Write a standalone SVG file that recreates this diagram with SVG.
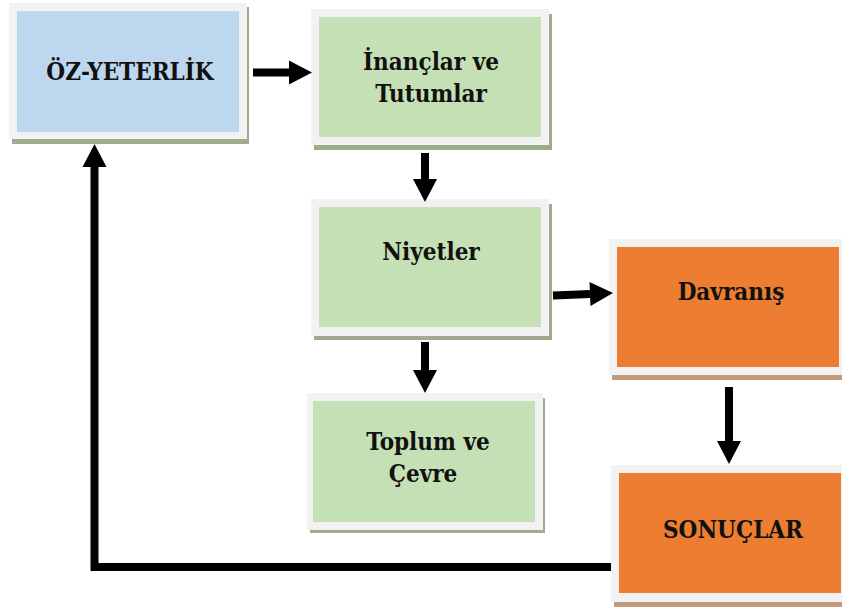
<svg xmlns="http://www.w3.org/2000/svg" width="842" height="607" viewBox="0 0 842 607">
<style>
.frame{fill:#f2f2f2}
.sg{fill:#9eab8e}
.so{fill:#c49a7e}
.blue{fill:#bdd7ee}
.green{fill:#c5e0b4}
.orange{fill:#ed7d31}
.t{font-family:"DejaVu Serif Condensed","DejaVu Serif",serif;font-weight:bold;font-size:24px;fill:#111;text-anchor:middle}
.c{fill:none;stroke:#000;stroke-width:8;marker-end:url(#ah)}
</style>
<defs>
<marker id="ah" markerUnits="userSpaceOnUse" markerWidth="23" markerHeight="24" refX="0" refY="12" orient="auto" overflow="visible">
<path d="M0,0 L23,12 L0,24 z" fill="#000"/>
</marker>
</defs>
<rect width="842" height="607" fill="#fff"/>
<g id="oz">
<rect class="sg" x="12" y="7" width="237" height="137"/>
<rect class="frame" x="9" y="3" width="238" height="136"/>
<rect class="blue" x="17" y="11" width="222" height="121"/>
<text class="t" x="130" y="80" font-size="21.5">ÖZ-YETERLİK</text>
</g>
<g id="inanc">
<rect class="sg" x="314" y="14" width="238" height="136"/>
<rect class="frame" x="311" y="9" width="238" height="136"/>
<rect class="green" x="319" y="17" width="222" height="120"/>
<text class="t" x="431" y="70">İnançlar ve</text>
<text class="t" x="431" y="102">Tutumlar</text>
</g>
<g id="niyet">
<rect class="sg" x="314" y="204" width="238" height="136"/>
<rect class="frame" x="311" y="199" width="238" height="137"/>
<rect class="green" x="319" y="207" width="222" height="120"/>
<text class="t" x="431" y="260">Niyetler</text>
</g>
<g id="toplum">
<rect class="sg" x="310" y="398" width="235" height="135"/>
<rect class="frame" x="307" y="393" width="236" height="137"/>
<rect class="green" x="313" y="401" width="222" height="121"/>
<text class="t" x="428" y="450">Toplum ve</text>
<text class="t" x="423" y="482">Çevre</text>
</g>
<g id="davranis">
<rect class="so" x="612" y="244" width="230" height="136"/>
<rect class="frame" x="609" y="239" width="233" height="136"/>
<rect class="orange" x="617" y="247" width="222" height="120"/>
<text class="t" x="731" y="300">Davranış</text>
</g>
<g id="sonuclar">
<rect class="so" x="614" y="470" width="228" height="137"/>
<rect class="frame" x="611" y="465" width="231" height="137"/>
<rect class="orange" x="619" y="473" width="222" height="120"/>
<text class="t" x="733" y="538">SONUÇLAR</text>
</g>
<g id="connectors">
<path class="c" d="M253,72.5 H289"/>
<path class="c" d="M425,153 V179"/>
<path class="c" d="M553,295.5 L590,294"/>
<path class="c" d="M425,342 V370"/>
<path class="c" d="M729,387 V441"/>
<path class="c" d="M611,567 H94.5 V167" stroke-linejoin="miter"/>
</g>
</svg>
